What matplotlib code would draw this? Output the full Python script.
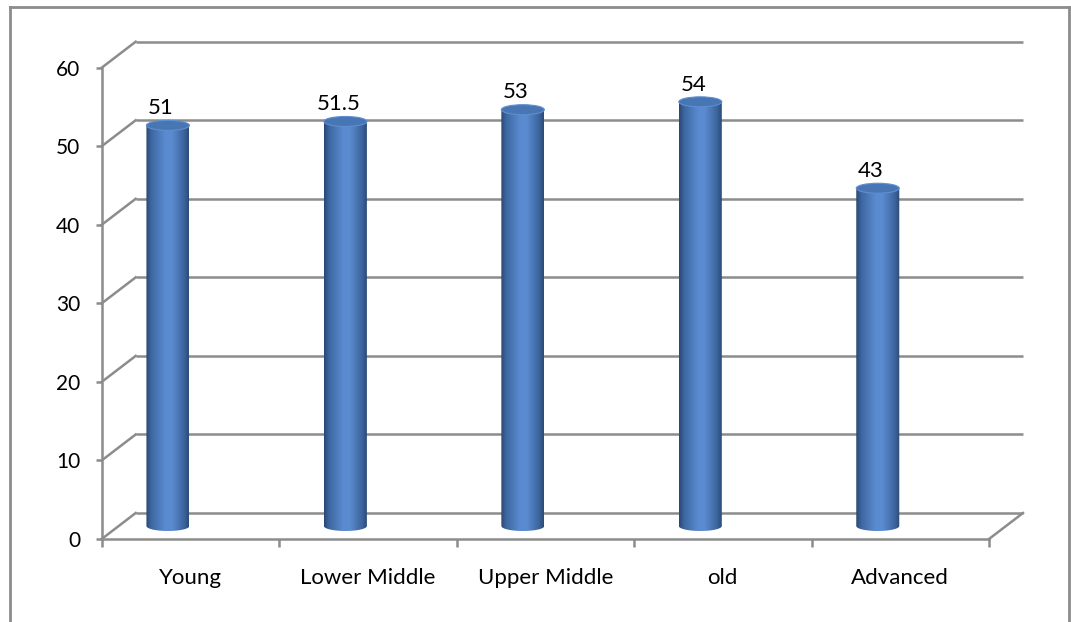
import matplotlib.pyplot as plt
import numpy as np
from matplotlib.colors import LinearSegmentedColormap
from matplotlib.patches import PathPatch, Ellipse
from matplotlib.path import Path
from matplotlib.lines import Line2D

plt.rcParams['font.family'] = ['Lato', 'DejaVu Sans']

categories = ['Young', 'Lower Middle', 'Upper Middle', 'old', 'Advanced']
values = [51, 51.5, 53, 54, 43]
labels = ['51', '51.5', '53', '54', '43']
yticks = [0, 10, 20, 30, 40, 50, 60]

W, H = 1071, 622
fig = plt.figure(figsize=(W / 100, H / 100), dpi=100)

# front plane of the 3d box, in pixels
x0, x1 = 101.7, 989.0
y0, y1 = 539.0, 67.7
ax = fig.add_axes([x0 / W, (H - y0) / H, (x1 - x0) / W, (y0 - y1) / H])
ax.set_xlim(-0.5, 4.5)
ax.set_ylim(0, 60)

px_x = (x1 - x0) / 5.0       # pixels per category
px_y = (y0 - y1) / 60.0      # pixels per unit
DX = 34 / px_x               # depth offset in data units
DY = 26 / px_y

grid = '#8c8c8c'
glw = 1.8

# back wall gridlines and left side wall
for v in yticks:
    ax.plot([-0.5 + DX, 4.5 + DX], [v + DY, v + DY], color=grid, lw=glw,
            zorder=1, clip_on=False, solid_capstyle='butt')
    ax.plot([-0.5, -0.5 + DX], [v, v + DY], color=grid, lw=glw,
            zorder=1, clip_on=False)
# floor, right edge
ax.plot([4.5, 4.5 + DX], [0, DY], color=grid, lw=glw, zorder=1, clip_on=False)

# cylinders
cmap = LinearSegmentedColormap.from_list(
    'cyl', [(0, '#2a4772'), (0.12, '#3d67a1'), (0.45, '#5a8bd0'),
            (0.6, '#5b8cd1'), (0.88, '#3d659e'), (1, '#2c4b76')])
grad = np.linspace(0, 1, 256)[None, :]
hw = 21.5 / px_x
eh = 5.0 / px_y
xshift = -22.5 / px_x
base = DY / 2
t = np.linspace(np.pi, 2 * np.pi, 40)
for i, v in enumerate(values):
    cx = i + xshift
    top = v + base
    verts = [(cx - hw, top), (cx - hw, base)]
    verts += [(cx + hw * np.cos(a), base + eh * np.sin(a)) for a in t]
    verts += [(cx + hw, top), (cx - hw, top)]
    body = PathPatch(Path(verts), facecolor='none', edgecolor='none',
                     transform=ax.transData)
    ax.add_patch(body)
    im = ax.imshow(grad, cmap=cmap, aspect='auto', interpolation='bilinear',
                   extent=(cx - hw, cx + hw, base - eh, top), zorder=3)
    im.set_clip_path(body)
    ax.add_patch(Ellipse((cx, top), 2 * hw, 2 * eh, facecolor='#4876b5',
                         edgecolor='#5f8fd0', lw=0.8, zorder=4))
    ax.annotate(labels[i], (cx, top + eh), xytext=(-5, 4.5),
                textcoords='offset points', ha='center', va='baseline',
                fontsize=16, zorder=5)

ax.set_xlim(-0.5, 4.5)
ax.set_ylim(0, 60)
ax.set_facecolor('none')

# front axes
for s in ['top', 'right']:
    ax.spines[s].set_visible(False)
for s in ['left', 'bottom']:
    ax.spines[s].set_color(grid)
    ax.spines[s].set_linewidth(glw)
    ax.spines[s].set_zorder(2)
ax.set_yticks(yticks)
ax.set_yticklabels([str(v) for v in yticks], fontsize=15)
ax.tick_params(axis='y', length=4.5, width=glw, color=grid, pad=11)
ax.set_xticks(np.arange(-0.5, 5, 1))
ax.set_xticklabels([])
ax.tick_params(axis='x', which='major', length=5.8, width=glw, color=grid)
ax.set_xticks(range(5), minor=True)
ax.set_xticklabels(categories, minor=True, fontsize=16)
ax.tick_params(axis='x', which='minor', length=0, pad=21)

# chart border
bx0, by0, bx1 = 9.5 / W, 1 - 7 / H, 1068.5 / W
for xs, ys in [([bx0, bx0], [0, by0]), ([bx0, bx1], [by0, by0]),
               ([bx1, bx1], [by0, 0])]:
    fig.add_artist(Line2D(xs, ys, color=grid, lw=2))

fig.savefig('out.png', dpi=100)
